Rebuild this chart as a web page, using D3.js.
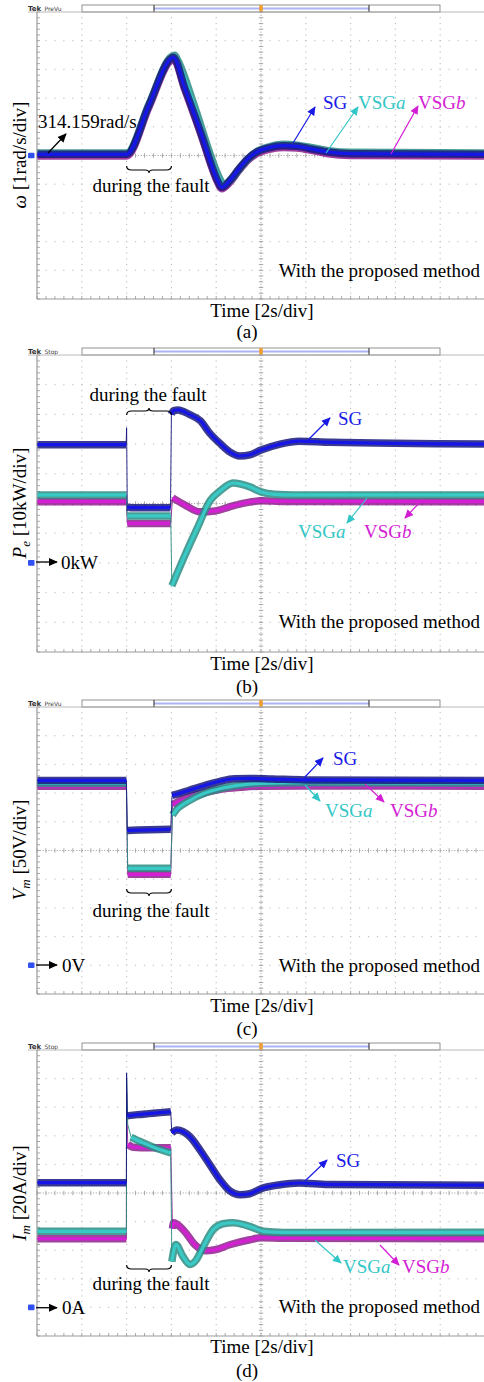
<!DOCTYPE html>
<html><head><meta charset="utf-8">
<script src="https://cdn.jsdelivr.net/npm/d3@7/dist/d3.min.js"></script>
<style>
html,body{margin:0;padding:0;background:#fff;}
svg{display:block;}
text{font-family:"Liberation Serif","Times New Roman",Times,serif;fill:#000;}
</style></head><body>
<svg id="chart" width="484" height="1382"></svg>
<script>
// ---------------- data ----------------
const timeDomain = [0, 20];            // seconds, 2 s/div
const faultWindow = [4, 6];
const seriesNames = ["SG", "VSGa", "VSGb"];
const panelLetters = ["(a)", "(b)", "(c)", "(d)"];
const refLabels = ["314.159rad/s", "0kW", "0V", "0A"];
const refValues = [314.159, 0, 0, 0];
const yDomains = [[309.159, 319.159], [-30, 70], [-50, 450], [-20, 180]];

// (a) rotor / virtual angular frequency, rad/s
const omegaTimeSG   = [0, 4.0, 5.0, 5.95, 6.08, 6.6, 7.4, 7.8, 8.05, 8.25, 8.6, 9.0, 9.4, 9.8, 10.3, 11.0, 11.6, 12.3, 13.0, 14.0, 20];
const omegaSG       = [314.2, 314.2, 315.92, 317.52, 317.58, 316.5, 314.75, 313.8, 313.3, 313.05, 313.28, 313.68, 314.04, 314.28, 314.42, 314.5, 314.48, 314.38, 314.28, 314.22, 314.2];
const omegaTimeVSGa = [0, 4.0, 5.0, 6.0, 6.15, 6.3, 7.0, 7.8, 8.1, 8.35, 8.7, 9.1, 9.5, 9.9, 10.4, 11.0, 11.6, 12.3, 13.0, 14.0, 20];
const omegaVSGa     = [314.25, 314.25, 315.95, 317.6, 317.65, 317.45, 315.95, 314.05, 313.45, 313.15, 313.35, 313.75, 314.1, 314.33, 314.47, 314.55, 314.52, 314.43, 314.33, 314.27, 314.25];
const omegaTimeVSGb = [0, 4.0, 5.0, 5.95, 6.1, 6.6, 7.4, 7.8, 8.05, 8.25, 8.6, 9.0, 9.4, 9.8, 10.3, 11.0, 11.6, 12.3, 13.0, 14.0, 20];
const omegaVSGb     = [314.14, 314.14, 315.85, 317.45, 317.5, 316.45, 314.7, 313.75, 313.25, 313.0, 313.22, 313.62, 313.98, 314.22, 314.36, 314.44, 314.42, 314.33, 314.22, 314.16, 314.14];

// (b) electrical power, kW
const pTimeSG   = [0, 3.98, 4.0, 4.03, 4.2, 5.0, 5.96, 6.0, 6.1, 6.3, 6.8, 7.3, 7.7, 8.2, 8.6, 9.06, 9.5, 10.0, 10.85, 11.7, 13.1, 20];
const pSG       = [39.8, 39.8, 45.5, 18.8, 18.6, 18.6, 18.6, 50.0, 51.3, 51.5, 50.0, 47.8, 43.8, 40.0, 37.4, 36.0, 36.4, 38.0, 40.0, 41.0, 40.6, 40.0];
const pTimeVSGa = [0, 3.99, 4.03, 4.3, 5.0, 5.97, 6.02, 6.6, 7.16, 7.72, 8.2, 8.75, 9.5, 10.0, 10.6, 11.5, 20];
const pVSGa     = [22.9, 22.9, 15.8, 15.8, 15.8, 15.8, -7.7, 2.5, 11.8, 20.9, 24.4, 26.9, 25.6, 23.9, 23.1, 22.9, 22.9];
const pTimeVSGb = [0, 3.99, 4.03, 5.0, 5.97, 6.05, 6.6, 7.28, 7.95, 8.6, 9.3, 10.0, 11.0, 20];
const pVSGb     = [20.6, 20.6, 13.3, 13.3, 13.3, 21.9, 19.5, 17.2, 17.5, 18.9, 20.2, 20.9, 20.7, 20.6];

// (c) voltage magnitude, V
const vTimeSG   = [0, 3.99, 4.03, 5.0, 5.97, 6.03, 6.4, 6.8, 7.5, 8.2, 8.8, 9.5, 10.5, 12.0, 20];
const vSG       = [322, 322, 235, 236, 237, 296, 300, 305, 313.6, 321, 325, 325.5, 324.5, 323, 322];
const vTimeVSGa = [0, 3.99, 4.05, 5.0, 5.97, 6.05, 6.3, 6.8, 7.5, 8.2, 9.1, 10.0, 12.0, 20];
const vVSGa     = [317, 317, 169, 169, 169, 262, 274, 287, 300, 308, 314, 317, 318, 317];
const vTimeVSGb = [0, 3.99, 4.05, 5.0, 5.97, 6.05, 6.3, 6.8, 7.5, 8.2, 9.1, 10.0, 12.0, 20];
const vVSGb     = [312, 312, 158.5, 158.5, 158.5, 280, 285, 292.7, 301, 306.6, 310, 312, 312.5, 312];

// (d) current magnitude, A
const iTimeSG   = [0, 3.99, 4.0, 4.03, 4.5, 5.0, 5.5, 5.97, 6.02, 6.25, 6.83, 7.28, 7.72, 8.17, 8.6, 9.06, 9.5, 10.0, 10.85, 11.7, 13.0, 20];
const iSG       = [87.2, 87.2, 164, 134, 134.8, 135.5, 136.2, 136.8, 122, 124, 119.3, 110, 99.7, 89.2, 81.6, 78.8, 79.5, 83, 85.8, 87, 86, 85.5];
const iTimeVSGa = [0, 3.99, 4.0, 4.05, 4.2, 4.6, 5.2, 5.97, 6.02, 6.2, 6.5, 6.83, 7.1, 7.4, 7.86, 8.3, 8.75, 9.2, 9.64, 10.1, 11.0, 20];
const iVSGa     = [53.2, 53.2, 160, 128, 119, 116, 112, 108, 32, 44, 36, 30, 33, 41.8, 54.3, 58.5, 59.2, 58.0, 55.8, 53.2, 52.4, 52.5];
const iTimeVSGb = [0, 3.99, 4.0, 4.05, 4.3, 5.0, 5.97, 6.05, 6.1, 6.6, 7.05, 7.5, 7.95, 8.6, 9.5, 10.0, 11.0, 20];
const iVSGb     = [48, 48, 150, 114, 112, 111.6, 111.6, 55, 59.2, 52.9, 43.8, 39.6, 40.3, 43.8, 47.3, 48.7, 48.4, 48];

// ---------------- styles / layout ----------------
const colors = {
  SG:   {core: "#1616e8", halo: "#17177c", text: "#1a1ae6"},
  VSGa: {core: "#37cac6", halo: "#2b8d83", text: "#33c6c6"},
  VSGb: {core: "#d41fd4", halo: "#8f208f", text: "#d41ed4"}
};
const svg = d3.select("#chart");
const X0 = 37, X1 = 485;
const x = d3.scaleLinear().domain(timeDomain).range([X0, X1]);

const panels = [
  {top: 12,  bottom: 299,  bar: "PreVu",
   series: [[omegaTimeVSGb, omegaVSGb, "VSGb"], [omegaTimeVSGa, omegaVSGa, "VSGa"], [omegaTimeSG, omegaSG, "SG"]]},
  {top: 355, bottom: 652,  bar: "Stop",
   series: [[pTimeVSGb, pVSGb, "VSGb"], [pTimeVSGa, pVSGa, "VSGa"], [pTimeSG, pSG, "SG"]]},
  {top: 707, bottom: 994,  bar: "PreVu",
   series: [[vTimeVSGb, vVSGb, "VSGb"], [vTimeVSGa, vVSGa, "VSGa"], [vTimeSG, vSG, "SG"]]},
  {top: 1050, bottom: 1336, bar: "Stop",
   series: [[iTimeVSGb, iVSGb, "VSGb"], [iTimeVSGa, iVSGa, "VSGa"], [iTimeSG, iSG, "SG"]]}
];

// markers
const defs = svg.append("defs");
const markerColors = {black: "#000", blue: colors.SG.text, cyan: colors.VSGa.text, mag: colors.VSGb.text};
Object.entries(markerColors).forEach(([k, c]) => {
  defs.append("marker").attr("id", "ah-" + k).attr("markerUnits", "userSpaceOnUse")
    .attr("viewBox", "0 0 10 10").attr("refX", 9).attr("refY", 5)
    .attr("markerWidth", 9).attr("markerHeight", 9).attr("orient", "auto")
    .append("path").attr("d", "M0,0.5 L10,5 L0,9.5 Z").attr("fill", c);
});

function arrow(g, x1, y1, x2, y2, key, w) {
  g.append("line").attr("x1", x1).attr("y1", y1).attr("x2", x2).attr("y2", y2)
    .attr("stroke", markerColors[key]).attr("stroke-width", w || 1.2)
    .attr("marker-end", "url(#ah-" + key + ")");
}

function brace(g, x1, x2, y, dir) {
  const m = (x1 + x2) / 2, h = 4 * dir;
  const d = `M${x1},${y - h} Q${x1},${y} ${x1 + 5},${y} L${m - 4},${y} Q${m},${y} ${m},${y + 3 * dir}` +
            ` Q${m},${y} ${m + 4},${y} L${x2 - 5},${y} Q${x2},${y} ${x2},${y - h}`;
  g.append("path").attr("d", d).attr("fill", "none").attr("stroke", "#000").attr("stroke-width", 1.2);
}

function label(g, xx, yy, parts, anchor, size) {
  const t = g.append("text").attr("x", xx).attr("y", yy).attr("font-size", size || 19)
    .attr("text-anchor", anchor || "start");
  parts.forEach(p => {
    const s = t.append("tspan").text(p.t);
    if (p.i) s.attr("font-style", "italic");
    if (p.c) s.style("fill", p.c);
    if (p.dy) s.attr("dy", p.dy);
    if (p.fs) s.attr("font-size", p.fs);
  });
  return t;
}

function seriesLabel(g, xx, yy, name) {
  const c = colors[name].text;
  if (name === "SG") return label(g, xx, yy, [{t: "SG", c}]);
  return label(g, xx, yy, [{t: "VSG", c}, {t: name === "VSGa" ? "a" : "b", i: true, c}]);
}

function drawPanel(p, idx) {
  const g = svg.append("g");
  const top = p.top, bottom = p.bottom;
  const dw = (X1 - X0) / 10, dh = (bottom - top) / 10;
  const y = d3.scaleLinear().domain(yDomains[idx]).range([bottom, top]);
  p.y = y;

  // top status bar
  const bt = top - 7;
  g.append("text").attr("x", 28).attr("y", top - 1.5).attr("font-size", 7)
    .style("font-family", "DejaVu Sans, sans-serif").style("font-weight", "bold").style("fill", "#333").text("Tek");
  g.append("text").attr("x", 44.5).attr("y", top - 1.5).attr("font-size", 6)
    .style("font-family", "DejaVu Sans, sans-serif").style("fill", "#444").text(p.bar);
  g.append("rect").attr("x", 82).attr("y", bt).attr("width", 358).attr("height", 7)
    .attr("fill", "#fff").attr("stroke", "#777").attr("stroke-width", 0.8);
  g.append("rect").attr("x", 154).attr("y", bt + 2.5).attr("width", 215).attr("height", 2)
    .attr("fill", "#aab4f4");
  [154, 369].forEach(xx => g.append("line").attr("x1", xx).attr("x2", xx).attr("y1", bt).attr("y2", top)
    .attr("stroke", "#222").attr("stroke-width", 1));
  g.append("rect").attr("x", x(10) - 1.8).attr("y", bt).attr("width", 3.6).attr("height", 7)
    .attr("rx", 1.2).attr("fill", "#f0a030");
  g.append("line").attr("x1", 28).attr("x2", 484).attr("y1", top).attr("y2", top)
    .attr("stroke", "#a8a8a8").attr("stroke-width", 0.8);

  // dotted grid
  const grid = g.append("g").attr("fill", "#c2c2c2");
  for (let i = 1; i < 10; i++) {
    if (i === 5) continue;
    for (let k = 0; k <= 50; k++)
      grid.append("rect").attr("x", X0 + i * dw - 0.6).attr("y", top + k * dh / 5 - 0.6).attr("width", 1.2).attr("height", 1.2);
  }
  for (let j = 1; j < 10; j++) {
    if (j === 5) continue;
    for (let k = 0; k <= 50; k++)
      grid.append("rect").attr("x", X0 + k * dw / 5 - 0.6).attr("y", top + j * dh - 0.6).attr("width", 1.2).attr("height", 1.2);
  }
  // centre lines with minor ticks
  const cx = X0 + 5 * dw, cy = top + 5 * dh;
  const cg = g.append("g").attr("stroke", "#a0a0a0").attr("stroke-width", 0.9);
  cg.append("line").attr("x1", cx).attr("x2", cx).attr("y1", top).attr("y2", bottom).attr("stroke-dasharray", "1.2,1.6");
  cg.append("line").attr("x1", X0).attr("x2", 484).attr("y1", cy).attr("y2", cy).attr("stroke-dasharray", "1.2,1.6");
  for (let k = 0; k <= 50; k++) {
    const yy = top + k * dh / 5, xx = X0 + k * dw / 5;
    cg.append("line").attr("x1", cx - 2.2).attr("x2", cx + 2.2).attr("y1", yy).attr("y2", yy);
    cg.append("line").attr("x1", xx).attr("x2", xx).attr("y1", cy - 2.2).attr("y2", cy + 2.2);
    cg.append("line").attr("x1", X0).attr("x2", X0 + 3).attr("y1", yy).attr("y2", yy);
    cg.append("line").attr("x1", xx).attr("x2", xx).attr("y1", bottom - 3).attr("y2", bottom);
  }
  g.append("line").attr("x1", X0).attr("x2", X0).attr("y1", top).attr("y2", bottom).attr("stroke", "#9a9a9a").attr("stroke-width", 1.2);
  g.append("line").attr("x1", X0).attr("x2", 484).attr("y1", bottom).attr("y2", bottom).attr("stroke", "#9a9a9a").attr("stroke-width", 1.2);

  // traces
  const clipId = "clip" + idx;
  defs.append("clipPath").attr("id", clipId).append("rect")
    .attr("x", X0 + 0.5).attr("y", top).attr("width", 484 - X0).attr("height", bottom - top);
  const tg = g.append("g").attr("clip-path", `url(#${clipId})`);
  const thin = d3.line().x(d => x(d[0])).y(d => y(d[1]));
  const thick = d3.line().x(d => x(d[0])).y(d => y(d[1])).curve(d3.curveMonotoneX);
  p.series.forEach(([ts, vs, name]) => {
    const pts = ts.map((t, i) => [t, vs[i]]);
    const col = colors[name];
    // fast transitions drawn as thin lines
    tg.append("path").attr("d", thin(pts)).attr("fill", "none")
      .attr("stroke", col.halo).attr("stroke-width", 1).attr("opacity", 0.9);
    // split into runs at the jumps
    const runs = []; let cur = [pts[0]];
    for (let i = 1; i < pts.length; i++) {
      const dx = x(pts[i][0]) - x(pts[i - 1][0]);
      const dy = Math.abs(y(pts[i][1]) - y(pts[i - 1][1]));
      if (dx < 4 && dy > 10) { runs.push(cur); cur = [pts[i]]; }
      else cur.push(pts[i]);
    }
    runs.push(cur);
    runs.filter(r => r.length > 1).forEach(r => {
      tg.append("path").attr("d", thick(r)).attr("fill", "none").attr("stroke", col.halo)
        .attr("stroke-width", 7.5).attr("stroke-linejoin", "round").attr("opacity", 0.85);
      tg.append("path").attr("d", thick(r)).attr("fill", "none").attr("stroke", col.core)
        .attr("stroke-width", 3.2).attr("stroke-linejoin", "round");
    });
  });

  // reference marker on left
  const ry = y(refValues[idx]);
  g.append("rect").attr("x", 28).attr("y", ry - 2.8).attr("width", 6.5).attr("height", 5.6)
    .attr("rx", 1).attr("fill", "#3050f0");

  // common texts
  label(g, 480, [277, 628, 972, 1313][idx], [{t: "With the proposed method"}], "end");
  label(g, 262, [317, 670, 1012, 1353][idx], [{t: "Time [2s/div]"}], "middle");
  label(g, 247, [338, 693, 1035, 1377][idx], [{t: panelLetters[idx]}], "middle");
  return g;
}

const gs = panels.map(drawPanel);

// y-axis labels (rotated)
function yLabel(cy, parts) {
  const t = svg.append("text").attr("transform", `translate(26,${cy}) rotate(-90)`)
    .attr("text-anchor", "middle").attr("font-size", 19);
  parts.forEach(p => {
    const s = t.append("tspan").text(p.t);
    if (p.i) s.attr("font-style", "italic");
    if (p.dy) s.attr("dy", p.dy);
    if (p.fs) s.attr("font-size", p.fs);
  });
}
yLabel(155, [{t: "ω", i: true}, {t: " [1rad/s/div]"}]);
yLabel(503, [{t: "P", i: true}, {t: "e", i: true, dy: 4, fs: 13}, {t: " [10kW/div]", dy: -4}]);
yLabel(850, [{t: "V", i: true}, {t: "m", i: true, dy: 4, fs: 13}, {t: " [50V/div]", dy: -4}]);
yLabel(1193, [{t: "I", i: true}, {t: "m", i: true, dy: 4, fs: 13}, {t: " [20A/div]", dy: -4}]);

// ---- annotations ----
const fx1 = x(faultWindow[0]), fx2 = x(faultWindow[1]);
// (a)
{
  const g = gs[0];
  label(g, 38, 127.5, [{t: refLabels[0]}]);
  arrow(g, 48, 153, 66, 134, "black", 1.3);
  seriesLabel(g, 323, 109, "SG"); seriesLabel(g, 358, 109, "VSGa"); seriesLabel(g, 418, 109, "VSGb");
  arrow(g, 293, 143, 315, 107, "blue"); arrow(g, 326, 153, 358, 107, "cyan"); arrow(g, 391, 154, 418, 106, "mag");
  brace(g, fx1, fx2, 170, 1);
  label(g, 151, 192, [{t: "during the fault"}], "middle");
}
// (b)
{
  const g = gs[1];
  brace(g, fx1, fx2, 411, -1);
  label(g, 148, 401, [{t: "during the fault"}], "middle");
  seriesLabel(g, 338, 425, "SG"); arrow(g, 308, 440, 330, 418, "blue");
  arrow(g, 367, 498, 347, 523, "cyan"); arrow(g, 422, 500, 405, 518, "mag");
  seriesLabel(g, 298, 538, "VSGa"); seriesLabel(g, 364, 538, "VSGb");
  arrow(g, 36, 562, 57, 562, "black", 1.3);
  label(g, 61, 568.5, [{t: refLabels[1]}]);
}
// (c)
{
  const g = gs[2];
  seriesLabel(g, 333, 765, "SG"); arrow(g, 304, 778, 323, 758, "blue");
  arrow(g, 305, 785, 320, 801, "cyan"); arrow(g, 365, 784, 384, 802, "mag");
  seriesLabel(g, 325, 817, "VSGa"); seriesLabel(g, 390, 817, "VSGb");
  brace(g, fx1, fx2, 893, 1);
  label(g, 151, 917, [{t: "during the fault"}], "middle");
  arrow(g, 36, 965, 57, 965, "black", 1.3);
  label(g, 62, 971.5, [{t: refLabels[2]}]);
}
// (d)
{
  const g = gs[3];
  seriesLabel(g, 336, 1167, "SG"); arrow(g, 305, 1181, 327, 1160, "blue");
  arrow(g, 315, 1240, 341, 1263, "cyan"); arrow(g, 380, 1245, 399, 1265, "mag");
  seriesLabel(g, 343, 1273, "VSGa"); seriesLabel(g, 402, 1273, "VSGb");
  brace(g, fx1, fx2, 1269, 1);
  label(g, 151, 1290, [{t: "during the fault"}], "middle");
  arrow(g, 36, 1307.7, 57, 1307.7, "black", 1.3);
  label(g, 62, 1314, [{t: refLabels[3]}]);
}
</script></body></html>
